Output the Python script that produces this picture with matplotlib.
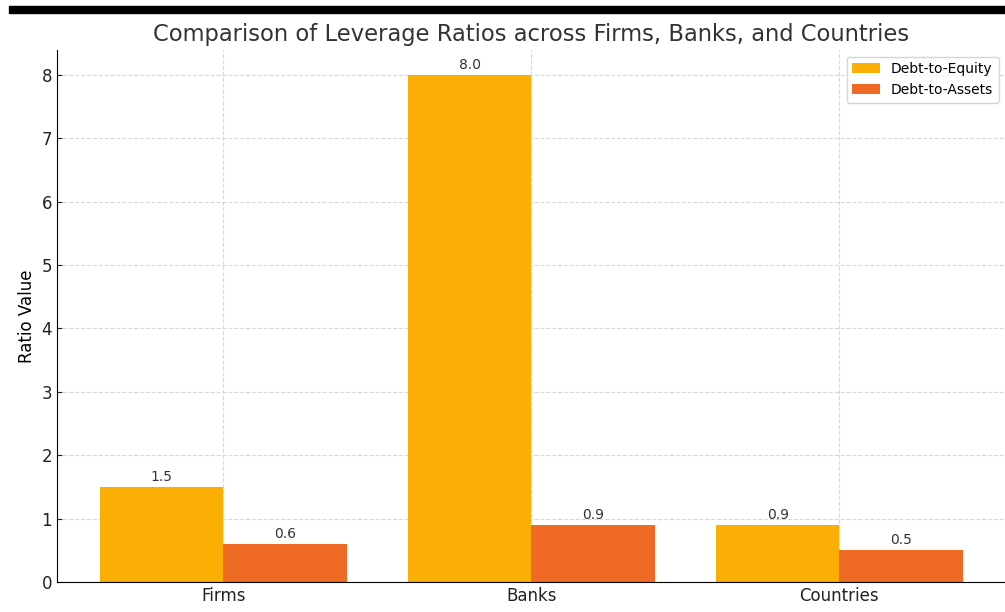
import matplotlib.pyplot as plt
import numpy as np
from matplotlib.patches import Rectangle

# data
categories = ['Firms', 'Banks', 'Countries']
debt_to_equity = [1.5, 8.0, 0.9]
debt_to_assets = [0.6, 0.9, 0.5]

fig = plt.figure(figsize=(10.05, 6.12), dpi=100)
ax = fig.add_axes([0.0567, 0.049, 0.944, 0.87])

x = np.arange(len(categories))
w = 0.4
b1 = ax.bar(x - w/2, debt_to_equity, w, color='#FBAE03', label='Debt-to-Equity')
b2 = ax.bar(x + w/2, debt_to_assets, w, color='#EE6A25', label='Debt-to-Assets')

# value labels above bars
for bars in (b1, b2):
    for r in bars:
        h = r.get_height()
        ax.text(r.get_x() + r.get_width()/2, h + 0.05, f'{h:.1f}',
                ha='center', va='bottom', fontsize=10, color='#333333')

ax.set_xticks(x)
ax.set_xticklabels(categories, fontsize=12)
ax.tick_params(axis='both', direction='in', labelsize=12, colors='#222222')
ax.set_ylabel('Ratio Value', fontsize=12)
ax.set_title('Comparison of Leverage Ratios across Firms, Banks, and Countries',
             fontsize=16.3, color='#333333')
ax.grid(True, linestyle='--', color='#d8d8d8', linewidth=0.8)
ax.set_axisbelow(True)
ax.spines['top'].set_visible(False)
ax.spines['right'].set_visible(False)
ax.legend(loc='upper right', fontsize=10)

# black strip across top of the screenshot
fig.add_artist(Rectangle((9/1005, 1 - 13/612), 1, 7/612,
                         transform=fig.transFigure, color='black'))

fig.savefig('out.png', dpi=100)
